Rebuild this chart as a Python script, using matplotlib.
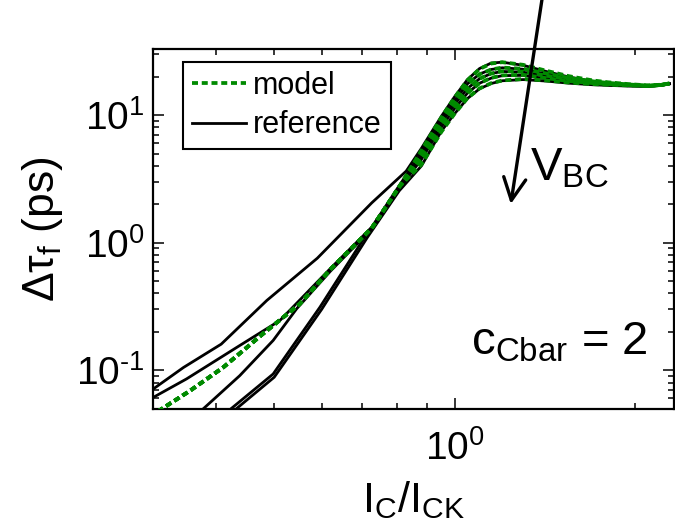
import matplotlib
matplotlib.use("Agg")
import numpy as np
import matplotlib.pyplot as plt
from matplotlib.ticker import LogLocator, NullFormatter, FuncFormatter
from matplotlib.lines import Line2D

plt.rcParams['font.family'] = ['Liberation Sans', 'DejaVu Sans']
plt.rcParams['mathtext.fontset'] = 'custom'
plt.rcParams['mathtext.rm'] = 'Liberation Sans'
plt.rcParams['mathtext.it'] = 'Liberation Sans'
plt.rcParams['mathtext.bf'] = 'Liberation Sans:bold'
plt.rcParams['mathtext.default'] = 'regular'
plt.rcParams['axes.unicode_minus'] = False

# ---- reference (device simulation) curves: I_C/I_CK vs delta tau_f (ps)
ref1_x = [0.31, 0.353, 0.408, 0.486, 0.59, 0.727, 0.83, 0.88, 0.95, 1.0, 1.05, 1.10, 1.15, 1.20, 1.30, 1.42, 1.55, 1.70, 1.80]
ref1_y = [0.068, 0.105, 0.16, 0.352, 0.755, 2.05, 3.64, 5.5, 9.8, 14.0, 19.0, 23.2, 25.6, 26.0, 24.6, 22.0, 19.9, 18.4, 17.8]

ref2_x = [0.31, 0.357, 0.438, 0.511, 0.621, 0.727, 0.808, 0.88, 0.95, 1.0, 1.05, 1.10, 1.15, 1.20, 1.30, 1.42, 1.55, 1.70, 1.80]
ref2_y = [0.059, 0.0853, 0.156, 0.245, 0.63, 1.32, 2.8, 5.1, 9.2, 13.0, 17.6, 21.0, 22.8, 23.5, 22.9, 21.0, 19.4, 18.2, 17.7]

ref3_x = [0.37, 0.438, 0.498, 0.545, 0.621, 0.727, 0.808, 0.88, 0.95, 1.0, 1.05, 1.10, 1.15, 1.20, 1.30, 1.42, 1.55, 1.70, 1.80, 1.95, 2.10, 2.20, 2.28]
ref3_y = [0.044, 0.0905, 0.171, 0.303, 0.60, 1.28, 2.72, 4.8, 8.7, 12.2, 16.2, 19.3, 21.2, 22.0, 21.7, 20.2, 18.9, 17.9, 17.5, 17.1, 16.9, 17.1, 17.6]

ref4_x = [0.415, 0.498, 0.545, 0.596, 0.709, 0.808, 0.88, 0.95, 1.0, 1.05, 1.10, 1.15, 1.20, 1.30, 1.42, 1.55, 1.70, 1.80, 1.95, 2.10, 2.20, 2.28]
ref4_y = [0.046, 0.0933, 0.171, 0.312, 1.12, 2.65, 4.5, 8.1, 11.3, 14.9, 17.8, 19.5, 20.4, 20.5, 19.3, 18.3, 17.6, 17.3, 17.0, 16.9, 17.1, 17.6]

ref5_x = [0.426, 0.50, 0.548, 0.60, 0.715, 0.808, 0.88, 0.95, 1.0, 1.05, 1.10, 1.15, 1.20, 1.30, 1.42, 1.55, 1.70, 1.80, 1.95, 2.10, 2.20, 2.28]
ref5_y = [0.047, 0.088, 0.163, 0.30, 1.10, 2.55, 4.0, 7.5, 10.3, 13.5, 16.1, 17.7, 18.6, 19.0, 18.5, 17.8, 17.3, 17.1, 16.9, 16.8, 17.1, 17.6]

# ---- compact model: shared low-current branch, then one branch per V_BC
model_low_x = [0.32, 0.362, 0.411, 0.479, 0.552, 0.621, 0.727, 0.808]
model_low_y = [0.0475, 0.069, 0.105, 0.193, 0.332, 0.62, 1.30, 2.74]

model_hi_x = [0.88, 0.95, 1.0, 1.05, 1.10, 1.15, 1.20, 1.30, 1.42, 1.55, 1.70, 1.80, 1.95, 2.10, 2.20, 2.28]
model1_hi_y = [5.3, 9.6, 13.8, 18.8, 23.0, 25.4, 26.0, 24.8, 22.3, 20.2, 18.7, 18.1, 17.5, 17.1, 17.3, 17.7]
model2_hi_y = [5.0, 9.1, 12.9, 17.5, 20.9, 22.8, 23.6, 23.1, 21.2, 19.6, 18.4, 17.9, 17.4, 17.0, 17.2, 17.7]
model3_hi_y = [4.7, 8.6, 12.1, 16.1, 19.3, 21.2, 22.1, 21.9, 20.4, 19.1, 18.1, 17.7, 17.3, 17.0, 17.2, 17.7]
model4_hi_y = [4.4, 8.0, 11.2, 14.9, 17.8, 19.6, 20.5, 20.7, 19.5, 18.5, 17.8, 17.5, 17.2, 17.0, 17.2, 17.7]
model5_hi_y = [4.1, 7.4, 10.3, 13.6, 16.2, 17.8, 18.7, 19.2, 18.7, 18.0, 17.5, 17.3, 17.1, 16.9, 17.2, 17.7]

ref_curves = [(ref1_x, ref1_y), (ref2_x, ref2_y), (ref3_x, ref3_y),
              (ref4_x, ref4_y), (ref5_x, ref5_y)]
model_hi = [model1_hi_y, model2_hi_y, model3_hi_y, model4_hi_y, model5_hi_y]

x_ticks = [1.0]
y_ticks = [0.1, 1.0, 10.0]

GREEN = '#008a00'
DASH = (0, (1.6, 1.0))


def pow10_label(v, pos):
    exp = int(round(np.log10(v)))
    return r'$10^{\text{%d}}$' % exp


fig = plt.figure(figsize=(6.75, 5.29), dpi=100)
ax = fig.add_axes([153 / 675, 1 - 409 / 529, 521 / 675, 360 / 529])
ax.set_xscale('log')
ax.set_yscale('log')

for xs, ys in ref_curves:
    ax.plot(xs, ys, color='black', lw=2.0, solid_joinstyle='round', zorder=2)

for hi in model_hi:
    ax.plot(model_low_x + model_hi_x, model_low_y + hi, color=GREEN, lw=2.7,
            linestyle=DASH, zorder=3)

ax.set_xlim(0.314, 2.32)
ax.set_ylim(0.0496, 33)

ax.xaxis.set_minor_locator(LogLocator(base=10, subs=[2, 3, 4, 5, 6, 7, 8, 9]))
ax.yaxis.set_minor_locator(LogLocator(base=10, subs=[2, 3, 4, 5, 6, 7, 8, 9]))
ax.set_xticks(x_ticks)
ax.set_yticks(y_ticks)
ax.xaxis.set_major_formatter(FuncFormatter(pow10_label))
ax.yaxis.set_major_formatter(FuncFormatter(pow10_label))
ax.xaxis.set_minor_formatter(NullFormatter())
ax.yaxis.set_minor_formatter(NullFormatter())

ax.tick_params(which='both', direction='in', top=True, right=True, width=1.1)
ax.tick_params(which='major', length=8, labelsize=28)
ax.tick_params(which='minor', length=4.5)
ax.tick_params(axis='x', which='major', pad=15)
ax.tick_params(axis='y', which='major', pad=6)
for sp in ax.spines.values():
    sp.set_linewidth(1.6)

ax.set_xlabel(r'$I_C/I_{CK}$', fontsize=31, labelpad=8)
ax.set_ylabel(r'$\Delta\tau_f$ (ps)', fontsize=32, labelpad=8)

handles = [Line2D([], [], color=GREEN, lw=2.7, linestyle=DASH),
           Line2D([], [], color='black', lw=2.0)]
leg = ax.legend(handles, ['model', 'reference'], loc='upper left',
                bbox_to_anchor=(0.0576, 0.964), borderaxespad=0, fontsize=22,
                frameon=True, fancybox=False, handlelength=1.75,
                handletextpad=0.25, labelspacing=0.3, borderpad=0.3)
leg.get_frame().set_edgecolor('black')
leg.get_frame().set_linewidth(1.5)
leg.get_frame().set_alpha(1)

ax.annotate('', xy=(1.24, 2.01), xytext=(1.40, 85), xycoords='data',
            arrowprops=dict(arrowstyle='->', lw=2.4, color='black',
                            mutation_scale=40, shrinkA=0, shrinkB=0),
            annotation_clip=False, zorder=5)
ax.text(0.7236, 0.635, r'$V_{BC}$', transform=ax.transAxes, fontsize=34,
        ha='left', va='baseline')
ax.text(0.611, 0.151, r'$c_{Cbar}$ = 2', transform=ax.transAxes, fontsize=34,
        ha='left', va='baseline')

fig.savefig('out.png', dpi=100)
